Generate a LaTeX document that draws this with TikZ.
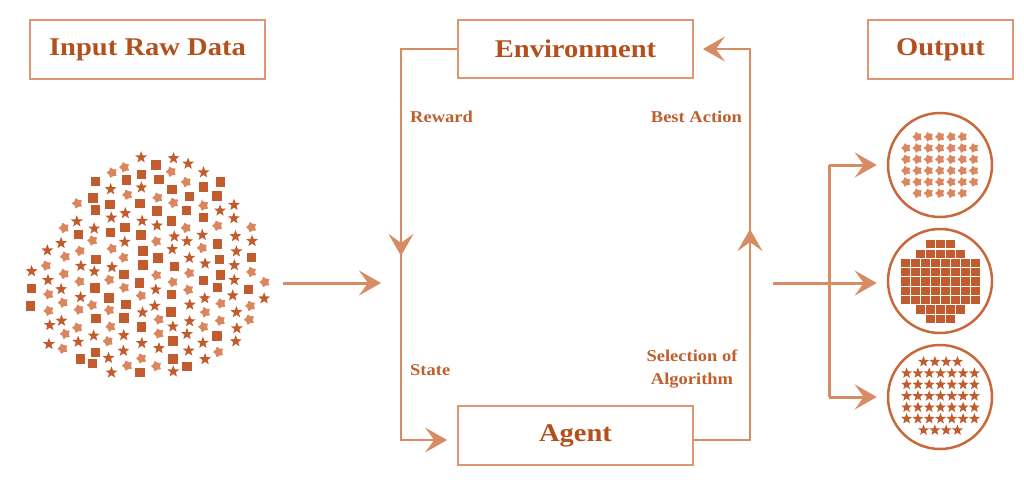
\documentclass[tikz,border=0pt]{standalone}
\usepackage{fontspec}
\setmainfont{Liberation Serif}
\newfontfamily\tfont{Liberation Serif}[FakeStretch=1.12]
\usetikzlibrary{arrows.meta,shapes.geometric,decorations.markings}
\definecolor{titlec}{RGB}{178,80,30}
\definecolor{labc}{RGB}{190,95,45}
\definecolor{boxc}{RGB}{222,150,115}
\definecolor{linec}{RGB}{215,140,100}
\definecolor{itemdark}{RGB}{192,92,45}
\definecolor{itemlight}{RGB}{218,135,95}
\definecolor{ringc}{RGB}{200,105,60}
\tikzset{
  titlebox/.style={draw=boxc, line width=1.8pt, inner sep=0pt,
    font=\tfont\bfseries\fontsize{25.5}{30}\selectfont, text=titlec},
  lab/.style={font=\tfont\bfseries\fontsize{16.5}{23}\selectfont, text=labc, inner sep=0pt},
  loopline/.style={draw=linec, line width=2pt},
  fatline/.style={draw=linec, line width=3pt},
  arrowhd/.style={-{Stealth[length=22pt,width=25pt,inset=9pt]}},
  midarrow/.style={postaction={decorate}, decoration={markings,
    mark=at position #1 with {\arrow[linec]{Stealth[length=22pt,width=25pt,inset=9pt]}}}},
  sq/.style={rectangle, fill=itemdark, minimum size=9.5pt, inner sep=0pt},
  st/.style={star, star points=5, star point ratio=2.4, minimum size=12.5pt, inner sep=0pt, fill=itemdark},
  mp/.style={star, star points=5, star point ratio=1.8, minimum size=12pt, inner sep=0pt,
    fill=itemlight, rounded corners=1pt, rotate=18},
  mps/.style={mp, minimum size=11pt, rounded corners=0.9pt},
  sts/.style={st, minimum size=11.5pt},
  sqs/.style={sq, minimum size=8.2pt},
  ring/.style={circle, draw=ringc, line width=2.5pt, minimum size=104pt, inner sep=0pt},
}
\begin{document}
\begin{tikzpicture}[x=1pt,y=-1pt]
\useasboundingbox (0,0) rectangle (1024,484);
% title boxes
\node[titlebox, minimum width=235pt, minimum height=59pt] (In) at (147.5,49.5) {Input Raw Data};
\node[titlebox, minimum width=235pt, minimum height=58pt] (Env) at (575.5,49) {Environment};
\node[titlebox, minimum width=235pt, minimum height=59pt] (Agent) at (575.5,435.5) {Agent};
\node[titlebox, minimum width=145pt, minimum height=59pt] (Out) at (940.5,49.5) {Output};
% labels
\node[lab, anchor=west] (rew) at (410,117) {Reward};
\node[lab, anchor=east] (best) at (742,117) {Best Action};
\node[lab, anchor=west] (state) at (410,370) {State};
\node[lab, align=center] (sel) at (692,369) {Selection of\\Algorithm};
% loop
\coordinate (lt) at (401,49);
\coordinate (lb) at (401,440);
\coordinate (rt) at (750,49);
\coordinate (rb) at (750,440);
\draw[loopline, midarrow=263pt, arrowhd, shorten >=10pt] (Env.west) -- (lt) -- (lb) -- ([yshift=-4.5pt]Agent.west);
\draw[loopline, midarrow=267pt, arrowhd, shorten >=9pt] ([yshift=-4.5pt]Agent.east) -- (rb) -- (rt) -- (Env.east);
% input arrow
\coordinate (inS) at (283,283);
\coordinate (inE) at (381,283);
\draw[fatline, arrowhd] (inS) -- (inE);
% output rings
\node[ring] (o1) at (940,165) {};
\node[ring] (o2) at (940,281) {};
\node[ring] (o3) at (940,397) {};
\coordinate (fanS) at (773,283);
\coordinate (fanT) at (829,165);
\coordinate (fanB) at (829,397);
\draw[fatline] (fanT) -- (fanB);
\draw[fatline, arrowhd, shorten >=10pt] (fanS) -- (fanS -| o2.west);
\draw[fatline, arrowhd, shorten >=10pt] (fanT) -- (o1.west);
\draw[fatline, arrowhd, shorten >=10pt] (fanB) -- (o3.west);
% ring contents
\foreach \n [count=\r] in {5,7,7,7,7,5}{
  \foreach \k in {1,...,\n}{
    \node[mps] (m\r-\k) at ({940+(\k-(\n+1)/2)*11.3},{165+(\r-3.5)*11.3}) {};
  }
}
\foreach \n [count=\r] in {3,5,8,8,8,8,8,5,3}{
  \foreach \k in {1,...,\n}{
    \node[sqs] (q\r-\k) at ({940.5+(\k-(\n+1)/2)*10},{281.5+(\r-5)*9.3}) {};
  }
}
\foreach \n [count=\r] in {4,7,7,7,7,7,4}{
  \foreach \k in {1,...,\n}{
    \node[sts] (t\r-\k) at ({940.5+(\k-(\n+1)/2)*11.3},{396+(\r-4)*11.4}) {};
  }
}
% cloud
\pgfmathsetseed{4321}
\foreach \i in {0,...,15}{
  \foreach \j in {0,...,15}{
    \pgfmathsetmacro\px{32+\i*15.6+2.2*rand}
    \pgfmathsetmacro\py{150+\j*15.4+2.2*rand+mod(\i,2)*7.7}
    \pgfmathsetmacro\dy{(\py-265)/115}
    \pgfmathtruncatemacro\ins{(abs(\dy)<1) && (abs(\px-150+10*\dy) < 117*sqrt(max(0,1-\dy*\dy))*(1+0.25*\dy))}
    \pgfmathtruncatemacro\tp{3*rnd}
    \ifnum\ins=1
      \ifcase\tp
        \node[sq] (c\i-\j) at (\px,\py) {};
      \or
        \node[st] (c\i-\j) at (\px,\py) {};
      \or
        \node[mp] (c\i-\j) at (\px,\py) {};
      \fi
    \fi
  }
}
\end{tikzpicture}
\end{document}
